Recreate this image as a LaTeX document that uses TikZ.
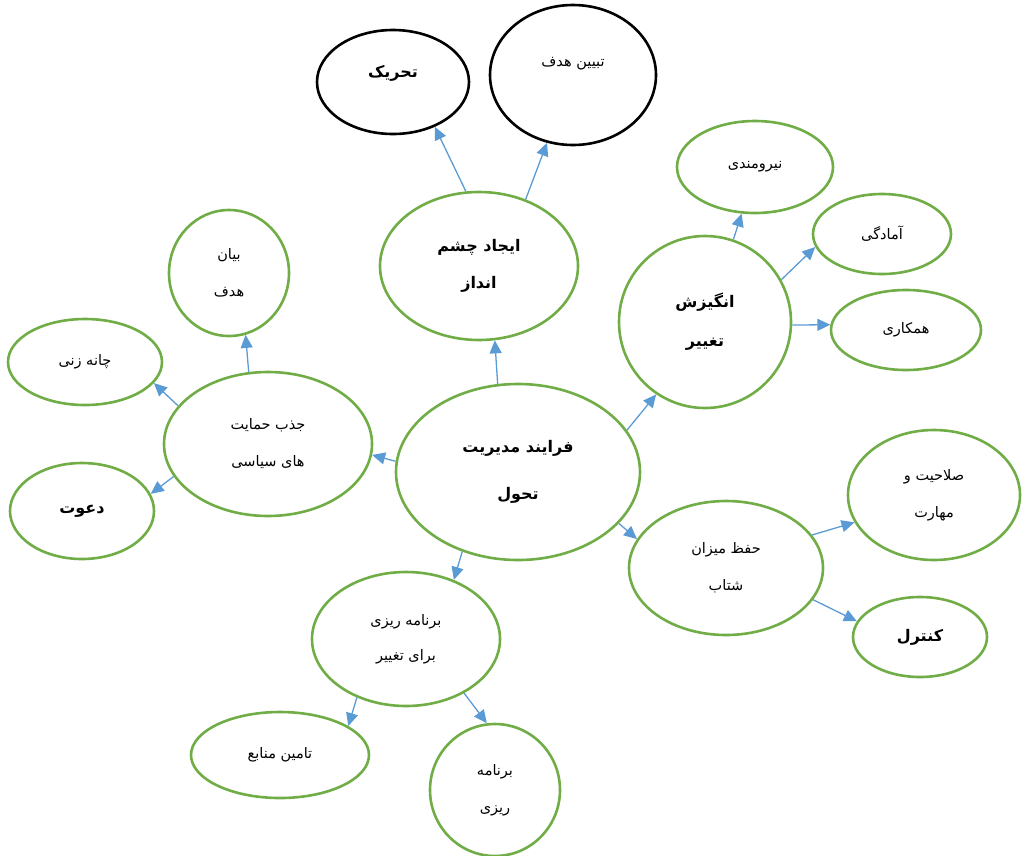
\documentclass[tikz,border=0pt]{standalone}
\usepackage{fontspec}
\usetikzlibrary{shapes.geometric,arrows.meta}
\newfontfamily\fa[Script=Arabic]{DejaVu Sans}
\TeXXeTstate=1
\definecolor{gr}{RGB}{112,173,71}
\definecolor{bl}{RGB}{91,155,213}
\newcommand\fatext[1]{\beginR#1\endR}
\begin{document}
\begin{tikzpicture}[x=1pt,y=-1pt,
 el/.style={ellipse, draw=gr, line width=2.6pt, inner sep=0pt, align=center, font=\fa\fontsize{14.5}{17}\selectfont},
 blk/.style={draw=black},
 bf/.style={font=\fa\bfseries\fontsize{16}{19}\selectfont},
 ar/.style={draw=bl, line width=1.3pt, -{Triangle[length=13pt,width=12pt]}}]
\useasboundingbox (0,0) rectangle (1028,855);
\node[el,blk,bf,minimum width=152pt,minimum height=104pt] (tahrik) at (393,82) {\fatext{تحریک}\\[2pt]~};
\node[el,blk,minimum width=166pt,minimum height=140pt] (tabyin) at (573,75) {\fatext{تبیین هدف}\\[10pt]~};
\node[el,bf,minimum width=198pt,minimum height=148pt] (ijad) at (479,266) {\fatext{ایجاد چشم}\\[18pt]\fatext{انداز}};
\node[el,minimum width=156pt,minimum height=92pt] (niru) at (755,167) {\fatext{نیرومندی}};
\node[el,minimum width=138pt,minimum height=80pt] (amad) at (882,234) {\fatext{آمادگی}};
\node[el,bf,minimum width=172pt,minimum height=172pt] (angiz) at (705,322) {\fatext{انگیزش}\\[20pt]\fatext{تغییر}};
\node[el,minimum width=150pt,minimum height=80pt] (hamk) at (906,330) {\fatext{همکاری}};
\node[el,minimum width=120pt,minimum height=126pt] (bayan) at (229,273) {\fatext{بیان}\\[20pt]\fatext{هدف}};
\node[el,minimum width=154pt,minimum height=86pt] (chane) at (85,362) {\fatext{چانه زنی}};
\node[el,minimum width=208pt,minimum height=144pt] (jazb) at (268,444) {\fatext{جذب حمایت}\\[20pt]\fatext{های سیاسی}};
\node[el,bf,minimum width=144pt,minimum height=96pt] (davat) at (82,511) {\fatext{دعوت}};
\node[el,bf,minimum width=244pt,minimum height=176pt] (center) at (518,472) {\fatext{فرایند مدیریت}\\[28pt]\fatext{تحول}};
\node[el,minimum width=172pt,minimum height=130pt] (salah) at (934,495) {\fatext{صلاحیت و}\\[20pt]\fatext{مهارت}};
\node[el,minimum width=194pt,minimum height=134pt] (hefz) at (726,568) {\fatext{حفظ میزان}\\[20pt]\fatext{شتاب}};
\node[el,bf,minimum width=134pt,minimum height=80pt] (kontrol) at (920,637) {\fatext{کنترل}};
\node[el,minimum width=188pt,minimum height=134pt] (barn) at (406,639) {\fatext{برنامه ریزی}\\[18pt]\fatext{برای تغییر}};
\node[el,minimum width=178pt,minimum height=86pt] (tamin) at (280,755) {\fatext{تامین منابع}};
\node[el,minimum width=130pt,minimum height=132pt] (barn2) at (495,790) {\fatext{برنامه}\\[20pt]\fatext{ریزی}};
\draw[ar] (ijad.100.9) -- (tahrik.-47.7);
\draw[ar] (ijad.55.7) -- (tabyin.-111.5);
\draw[ar] (center.103.6) -- (ijad.-78.9);
\draw[ar] (center.21.1) -- (angiz.-124.4);
\draw[ar] (angiz.71.8) -- (niru.-106.7);
\draw[ar] (angiz.29.3) -- (amad.-169.1);
\draw[ar] (angiz.-2.7) -- (hamk.176.9);
\draw[ar] (center.175.2) -- (jazb.-6.1);
\draw[ar] (jazb.105.5) -- (bayan.-75.3);
\draw[ar] (jazb.157) -- (chane.-17.6);
\draw[ar] (jazb.-161.4) -- (davat.14);
\draw[ar] (center.-27.5) -- (hefz.162.2);
\draw[ar] (hefz.21.4) -- (salah.-161.8);
\draw[ar] (hefz.-20.3) -- (kontrol.166);
\draw[ar] (center.-125.1) -- (barn.51.7);
\draw[ar] (barn.-130.6) -- (tamin.23.3);
\draw[ar] (barn.-43.5) -- (barn2.97.5);
\end{tikzpicture}
\end{document}
